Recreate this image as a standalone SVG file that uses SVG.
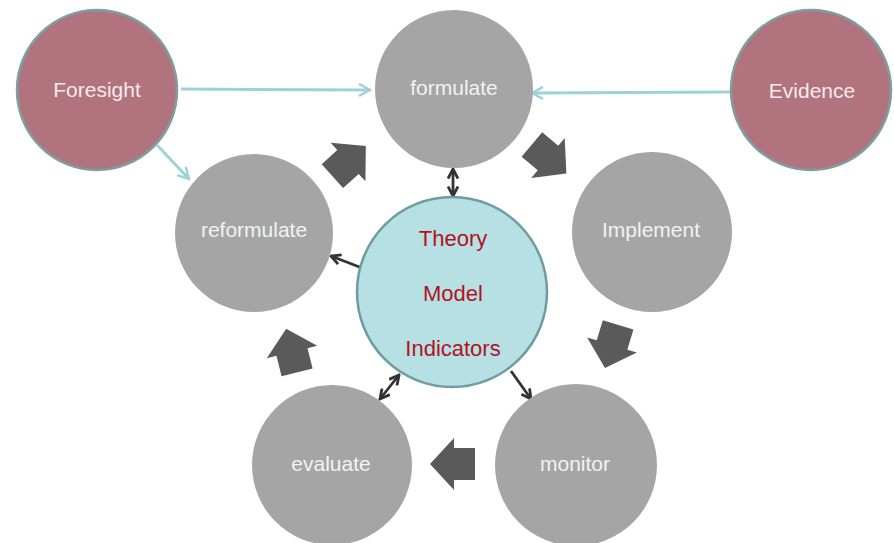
<svg xmlns="http://www.w3.org/2000/svg" width="894" height="543" viewBox="0 0 894 543">
  <defs>
    <style>
      .gray { fill: #a5a5a5; }
      .ext { fill: #b1737d; stroke: #7e9ea0; stroke-width: 2.5; }
      .core { fill: #b6e0e4; stroke: #6f9c9f; stroke-width: 2.5; }
      .lbl { font-family: "Liberation Sans", Arial, sans-serif; font-size: 21px; fill: #f2f2f2; text-anchor: middle; }
      .extlbl { font-family: "Liberation Sans", Arial, sans-serif; font-size: 21px; fill: #fbe9ee; text-anchor: middle; }
      .corelbl { font-family: "Liberation Sans", Arial, sans-serif; font-size: 22px; fill: #b3121f; text-anchor: middle; }
      .cyan { stroke: #9fd2d6; stroke-width: 3; fill: none; }
      .dark { stroke: #333333; stroke-width: 2.8; fill: none; }
      .block { fill: #5a5a5a; }
    </style>
    <marker id="cyanHead" viewBox="0 0 14 14" refX="12" refY="7" markerWidth="14" markerHeight="14" markerUnits="userSpaceOnUse" orient="auto-start-reverse">
      <path d="M1,1 L12,7 L1,13" fill="none" stroke="#9fd2d6" stroke-width="2.5"/>
    </marker>
    <marker id="darkHead" viewBox="0 0 12 12" refX="10.5" refY="6" markerWidth="12" markerHeight="12" markerUnits="userSpaceOnUse" orient="auto-start-reverse">
      <path d="M1,1 L10.5,6 L1,11" fill="none" stroke="#333333" stroke-width="2.8"/>
    </marker>
    <polygon id="blockArrow" points="-21,-16 0,-16 0,-26 24,0 0,26 0,16 -21,16"/>
  </defs>

  <g id="connectors">
    <line class="cyan" x1="181" y1="89" x2="370" y2="90" marker-end="url(#cyanHead)"/>
    <line class="cyan" x1="731" y1="92" x2="532" y2="93" marker-end="url(#cyanHead)"/>
    <line class="cyan" x1="157" y1="145" x2="189" y2="179" marker-end="url(#cyanHead)"/>
    <line class="dark" x1="453" y1="169" x2="453" y2="196" marker-start="url(#darkHead)" marker-end="url(#darkHead)"/>
    <line class="dark" x1="362" y1="268" x2="331" y2="256" marker-end="url(#darkHead)"/>
    <line class="dark" x1="399" y1="375" x2="380" y2="399" marker-start="url(#darkHead)" marker-end="url(#darkHead)"/>
    <line class="dark" x1="511" y1="371" x2="531" y2="399" marker-end="url(#darkHead)"/>
    <use href="#blockArrow" class="block" transform="translate(348,162) rotate(-42)"/>
    <use href="#blockArrow" class="block" transform="translate(548,158) rotate(40)"/>
    <use href="#blockArrow" class="block" transform="translate(612,345) rotate(107)"/>
    <use href="#blockArrow" class="block" transform="translate(454,464) rotate(180)"/>
    <use href="#blockArrow" class="block" transform="translate(292,352) rotate(-104)"/>
  </g>

  <g id="foresight">
    <circle class="ext" cx="97" cy="90" r="80"/>
    <text class="extlbl" x="97" y="97">Foresight</text>
  </g>
  <g id="evidence">
    <circle class="ext" cx="811" cy="90" r="80"/>
    <text class="extlbl" x="812" y="98">Evidence</text>
  </g>
  <g id="formulate">
    <circle class="gray" cx="454" cy="89" r="79"/>
    <text class="lbl" x="454" y="95">formulate</text>
  </g>
  <g id="implement">
    <circle class="gray" cx="652" cy="232" r="80"/>
    <text class="lbl" x="651" y="237">Implement</text>
  </g>
  <g id="monitor">
    <circle class="gray" cx="576" cy="465" r="81"/>
    <text class="lbl" x="575" y="471">monitor</text>
  </g>
  <g id="evaluate">
    <circle class="gray" cx="332" cy="465" r="80"/>
    <text class="lbl" x="331" y="471">evaluate</text>
  </g>
  <g id="reformulate">
    <circle class="gray" cx="254" cy="233" r="79"/>
    <text class="lbl" x="254" y="237">reformulate</text>
  </g>
  <g id="core">
    <circle class="core" cx="452" cy="292" r="95"/>
    <text class="corelbl" x="453" y="246">Theory</text>
    <text class="corelbl" x="453" y="301">Model</text>
    <text class="corelbl" x="453" y="356">Indicators</text>
  </g>
</svg>
